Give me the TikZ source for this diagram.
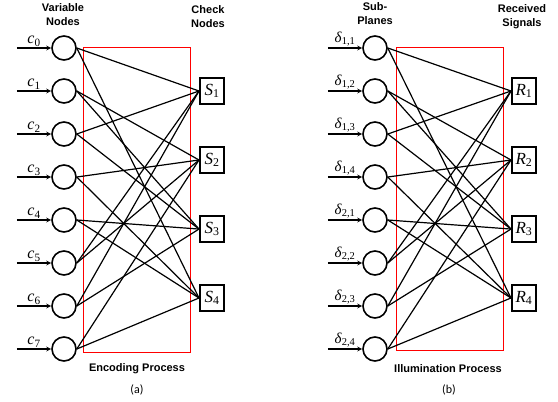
\documentclass[tikz,border=0pt]{standalone}
\usepackage{fontspec}
\setmainfont{Liberation Serif}
\newfontfamily\headfont{Liberation Sans}
\newfontfamily\capfont{Carlito}
\usepackage{tikz}
\usetikzlibrary{matrix}

\newcommand{\sublabel}[2]{\textit{#1}\textsubscript{#2}}

\begin{document}
\begin{tikzpicture}[>=stealth, x=1pt, y=-1pt,
    title/.style={font=\headfont\bfseries\fontsize{11}{14}\selectfont, align=center},
    caption/.style={font=\capfont\fontsize{12}{14}\selectfont},
    inlabel/.style={font=\fontsize{16}{16}\selectfont, inner sep=1pt},
    deltalabel/.style={font=\fontsize{15}{15}\selectfont, inner sep=1pt},
    edge/.style={line width=1.2pt},
    frame/.style={draw=red, line width=1pt},
    varcol/.style={matrix of nodes, nodes in empty cells,
        row sep={43pt,between origins},
        column sep={48pt,between origins},
        nodes={draw, circle, minimum size=24pt, line width=1.6pt},
        column 1/.style={nodes={draw=none, minimum size=0pt, inner sep=0pt}}},
    chkcol/.style={matrix of nodes,
        row sep={69pt,between origins},
        nodes={draw, rectangle, minimum width=24pt, minimum height=26pt,
            inner sep=0pt, line width=2pt, font=\fontsize{17}{17}\selectfont}},
]
    \useasboundingbox (0,0) rectangle (558,402);

    % (a) encoding
    \matrix (vars) [varcol, matrix anchor=vars-1-2.center] at (64,48)
    { & \\ & \\ & \\ & \\ & \\ & \\ & \\ & \\ };
    \matrix (checks) [chkcol, matrix anchor=checks-1-1.center] at (212,91)
    { \sublabel{S}{1} \\ \sublabel{S}{2} \\ \sublabel{S}{3} \\ \sublabel{S}{4} \\ };
    \draw[frame] (83,47) rectangle (190,352);

    \node[title] (varhead) at (63,15) {Variable\\Nodes};
    \node[title] (chkhead) at (208,17) {Check\\Nodes};
    \node[title] (enc) at (137,369) {Encoding Process};
    \node[caption] (capa) at (137,390) {(a)};

    \draw[->, edge] (vars-1-1) -- (vars-1-2) node[midway,above,inlabel] {\sublabel{c}{0}};
    \draw[->, edge] (vars-2-1) -- (vars-2-2) node[midway,above,inlabel] {\sublabel{c}{1}};
    \draw[->, edge] (vars-3-1) -- (vars-3-2) node[midway,above,inlabel] {\sublabel{c}{2}};
    \draw[->, edge] (vars-4-1) -- (vars-4-2) node[midway,above,inlabel] {\sublabel{c}{3}};
    \draw[->, edge] (vars-5-1) -- (vars-5-2) node[midway,above,inlabel] {\sublabel{c}{4}};
    \draw[->, edge] (vars-6-1) -- (vars-6-2) node[midway,above,inlabel] {\sublabel{c}{5}};
    \draw[->, edge] (vars-7-1) -- (vars-7-2) node[midway,above,inlabel] {\sublabel{c}{6}};
    \draw[->, edge] (vars-8-1) -- (vars-8-2) node[midway,above,inlabel] {\sublabel{c}{7}};

    \draw[edge] (vars-1-2.east) -- (checks-1-1.west);
    \draw[edge] (vars-1-2.east) -- (checks-4-1.west);
    \draw[edge] (vars-2-2.east) -- (checks-2-1.west);
    \draw[edge] (vars-2-2.east) -- (checks-3-1.west);
    \draw[edge] (vars-3-2.east) -- (checks-1-1.west);
    \draw[edge] (vars-3-2.east) -- (checks-3-1.west);
    \draw[edge] (vars-4-2.east) -- (checks-2-1.west);
    \draw[edge] (vars-4-2.east) -- (checks-4-1.west);
    \draw[edge] (vars-5-2.east) -- (checks-3-1.west);
    \draw[edge] (vars-5-2.east) -- (checks-4-1.west);
    \draw[edge] (vars-6-2.east) -- (checks-1-1.west);
    \draw[edge] (vars-6-2.east) -- (checks-2-1.west);
    \draw[edge] (vars-7-2.east) -- (checks-1-1.west);
    \draw[edge] (vars-7-2.east) -- (checks-3-1.west);
    \draw[edge] (vars-8-2.east) -- (checks-2-1.west);
    \draw[edge] (vars-8-2.east) -- (checks-4-1.west);

    % (b) illumination
    \matrix (planes) [varcol, matrix anchor=planes-1-2.center] at (375,48)
    { & \\ & \\ & \\ & \\ & \\ & \\ & \\ & \\ };
    \matrix (signals) [chkcol, matrix anchor=signals-1-1.center] at (524,91)
    { \sublabel{R}{1} \\ \sublabel{R}{2} \\ \sublabel{R}{3} \\ \sublabel{R}{4} \\ };
    \draw[frame] (396,47) rectangle (503,350);

    \node[title] (planehead) at (375,14) {Sub-\\Planes};
    \node[title] (sighead) at (522,17) {Received\\Signals};
    \node[title] (illum) at (448,369) {Illumination Process};
    \node[caption] (capb) at (449,390) {(b)};

    \draw[->, edge] (planes-1-1) -- (planes-1-2) node[midway,above,deltalabel] {\sublabel{δ}{1,1}};
    \draw[->, edge] (planes-2-1) -- (planes-2-2) node[midway,above,deltalabel] {\sublabel{δ}{1,2}};
    \draw[->, edge] (planes-3-1) -- (planes-3-2) node[midway,above,deltalabel] {\sublabel{δ}{1,3}};
    \draw[->, edge] (planes-4-1) -- (planes-4-2) node[midway,above,deltalabel] {\sublabel{δ}{1,4}};
    \draw[->, edge] (planes-5-1) -- (planes-5-2) node[midway,above,deltalabel] {\sublabel{δ}{2,1}};
    \draw[->, edge] (planes-6-1) -- (planes-6-2) node[midway,above,deltalabel] {\sublabel{δ}{2,2}};
    \draw[->, edge] (planes-7-1) -- (planes-7-2) node[midway,above,deltalabel] {\sublabel{δ}{2,3}};
    \draw[->, edge] (planes-8-1) -- (planes-8-2) node[midway,above,deltalabel] {\sublabel{δ}{2,4}};

    \draw[edge] (planes-1-2.east) -- (signals-1-1.west);
    \draw[edge] (planes-1-2.east) -- (signals-4-1.west);
    \draw[edge] (planes-2-2.east) -- (signals-2-1.west);
    \draw[edge] (planes-2-2.east) -- (signals-3-1.west);
    \draw[edge] (planes-3-2.east) -- (signals-1-1.west);
    \draw[edge] (planes-3-2.east) -- (signals-3-1.west);
    \draw[edge] (planes-4-2.east) -- (signals-2-1.west);
    \draw[edge] (planes-4-2.east) -- (signals-4-1.west);
    \draw[edge] (planes-5-2.east) -- (signals-3-1.west);
    \draw[edge] (planes-5-2.east) -- (signals-4-1.west);
    \draw[edge] (planes-6-2.east) -- (signals-1-1.west);
    \draw[edge] (planes-6-2.east) -- (signals-2-1.west);
    \draw[edge] (planes-7-2.east) -- (signals-1-1.west);
    \draw[edge] (planes-7-2.east) -- (signals-3-1.west);
    \draw[edge] (planes-8-2.east) -- (signals-2-1.west);
    \draw[edge] (planes-8-2.east) -- (signals-4-1.west);
\end{tikzpicture}
\end{document}
